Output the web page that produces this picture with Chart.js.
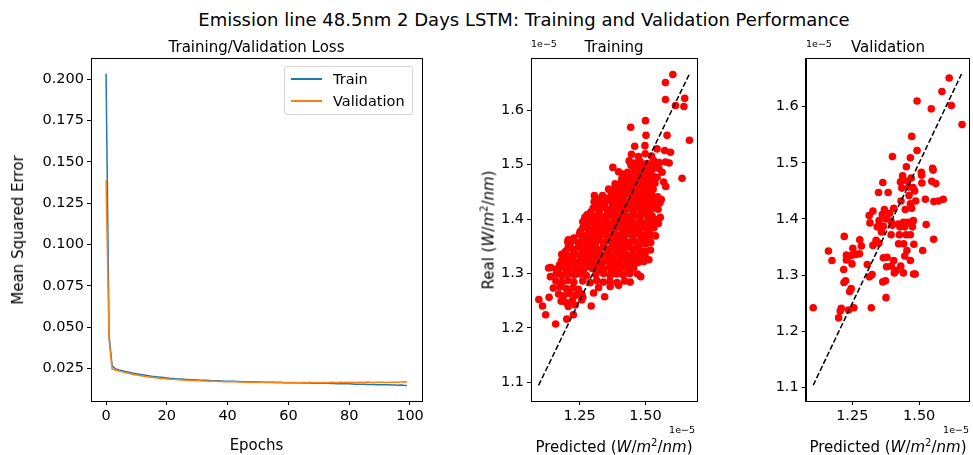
<!DOCTYPE html>
<html>
<head>
<meta charset="utf-8">
<script src="https://cdn.jsdelivr.net/npm/chart.js@4.4.1/dist/chart.umd.min.js"></script>
<style>
  body { margin: 0; width: 973px; height: 455px; background: #fff; position: relative; overflow: hidden;
         font-family: "DejaVu Sans", sans-serif; color: #000; }
  canvas { position: absolute; }
  .lbl { position: absolute; white-space: nowrap; transform: translate(-50%, -50%); font-size: 15px; }
  .rot { transform: translate(-50%, -50%) rotate(-90deg); }
  .off { position: absolute; font-size: 9.5px; white-space: nowrap; }
  #legend { position: absolute; left: 284px; top: 66px; width: 127px; height: 47px;
            border: 1px solid #d5d5d5; border-radius: 3px; background: rgba(255,255,255,0.8); font-size: 14.5px; }
  #legend .sw { position: absolute; left: 6px; width: 31px; height: 2px; }
  #legend .tx { position: absolute; left: 48px; transform: translateY(-50%); }
</style>
</head>
<body>
<canvas id="lossChart" width="440" height="400" style="left:0px; top:40px"></canvas>
<canvas id="trainChart" width="270" height="400" style="left:440px; top:40px"></canvas>
<canvas id="valChart" width="263" height="400" style="left:710px; top:40px"></canvas>

<div class="lbl" style="left:524px; top:19px; font-size:18px">Emission line 48.5nm 2 Days LSTM: Training and Validation Performance</div>
<div class="lbl" style="left:256.5px; top:47px">Training/Validation Loss</div>
<div class="lbl" style="left:614px; top:47px">Training</div>
<div class="lbl" style="left:888px; top:47px">Validation</div>

<div class="lbl rot" style="left:17.5px; top:229.5px">Mean Squared Error</div>
<div class="lbl" style="left:256.5px; top:445px">Epochs</div>
<div class="lbl rot" style="left:488px; top:230px">Real (<i>W</i>/<i>m</i><sup style="font-size:10px">2</sup>/<i>nm</i>)</div>
<div class="lbl" style="left:614px; top:446px">Predicted (<i>W</i>/<i>m</i><sup style="font-size:10px">2</sup>/<i>nm</i>)</div>
<div class="lbl" style="left:888px; top:446px">Predicted (<i>W</i>/<i>m</i><sup style="font-size:10px">2</sup>/<i>nm</i>)</div>

<div class="off" style="left:531px; top:38px">1e−5</div>
<div class="off" style="left:806px; top:38px">1e−5</div>
<div class="off" style="right:278px; top:424px">1e−5</div>
<div class="off" style="right:4px; top:424px">1e−5</div>

<div id="legend">
  <div class="sw" style="top:11px; background:#1f77b4"></div><div class="tx" style="top:12px">Train</div>
  <div class="sw" style="top:33px; background:#ff7f0e"></div><div class="tx" style="top:34px">Validation</div>
</div>

<script>
// Loss history (one value per epoch)
const trainLoss = [
    0.2035, 0.0450, 0.0265, 0.0248, 0.0242, 0.0237, 0.0232, 0.0228, 0.0224, 0.0220,
    0.0217, 0.0214, 0.0211, 0.0208, 0.0205, 0.0202, 0.0200, 0.0198, 0.0196, 0.0194,
    0.0192, 0.0190, 0.0189, 0.0187, 0.0186, 0.0185, 0.0183, 0.0182, 0.0181, 0.0180,
    0.0179, 0.0178, 0.0177, 0.0177, 0.0176, 0.0175, 0.0174, 0.0174, 0.0173, 0.0172,
    0.0172, 0.0171, 0.0171, 0.0170, 0.0170, 0.0169, 0.0169, 0.0168, 0.0168, 0.0167,
    0.0167, 0.0166, 0.0166, 0.0166, 0.0165, 0.0165, 0.0164, 0.0164, 0.0164, 0.0163,
    0.0163, 0.0163, 0.0162, 0.0162, 0.0162, 0.0161, 0.0161, 0.0161, 0.0160, 0.0160,
    0.0160, 0.0159, 0.0159, 0.0159, 0.0158, 0.0158, 0.0157, 0.0157, 0.0157, 0.0156,
    0.0156, 0.0155, 0.0154, 0.0154, 0.0153, 0.0154, 0.0152, 0.0152, 0.0152, 0.0151,
    0.0151, 0.0150, 0.0151, 0.0150, 0.0149, 0.0149, 0.0148, 0.0149, 0.0147, 0.0146
];
const valLoss = [
    0.1390, 0.0420, 0.0245, 0.0240, 0.0235, 0.0230, 0.0226, 0.0221, 0.0217, 0.0213,
    0.0210, 0.0206, 0.0203, 0.0200, 0.0198, 0.0196, 0.0193, 0.0191, 0.0189, 0.0188,
    0.0186, 0.0184, 0.0183, 0.0182, 0.0180, 0.0179, 0.0178, 0.0177, 0.0176, 0.0176,
    0.0175, 0.0174, 0.0173, 0.0173, 0.0172, 0.0171, 0.0171, 0.0170, 0.0170, 0.0169,
    0.0169, 0.0168, 0.0168, 0.0168, 0.0167, 0.0167, 0.0166, 0.0167, 0.0166, 0.0165,
    0.0166, 0.0165, 0.0165, 0.0164, 0.0165, 0.0164, 0.0164, 0.0165, 0.0164, 0.0163,
    0.0164, 0.0163, 0.0164, 0.0163, 0.0163, 0.0164, 0.0163, 0.0165, 0.0163, 0.0163,
    0.0164, 0.0163, 0.0164, 0.0163, 0.0165, 0.0164, 0.0163, 0.0166, 0.0164, 0.0165,
    0.0164, 0.0166, 0.0164, 0.0165, 0.0165, 0.0164, 0.0167, 0.0165, 0.0164, 0.0166,
    0.0165, 0.0166, 0.0164, 0.0166, 0.0165, 0.0166, 0.0165, 0.0167, 0.0169, 0.0167
];

// Tick labels
const lossXTicks = [0, 20, 40, 60, 80, 100];
const lossYTicks = [0.025, 0.050, 0.075, 0.100, 0.125, 0.150, 0.175, 0.200];
const fluxXTicks = [1.25, 1.50];
const fluxYTicks = [1.1, 1.2, 1.3, 1.4, 1.5, 1.6];

// Scatter points [predicted, real], in units of 1e-5 W/m^2/nm
const trainPoints = [
    [1.604,1.666],[1.576,1.651],[1.576,1.620],[1.649,1.622],[1.614,1.609],[1.646,1.607],[1.667,1.545],
    [1.500,1.581],[1.444,1.569],[1.502,1.554],[1.582,1.554],[1.459,1.534],[1.498,1.535],[1.639,1.475],
    [1.595,1.523],[1.573,1.526],[1.544,1.529],[1.376,1.495],[1.398,1.487],[1.413,1.483],[1.576,1.505],
    [1.563,1.486],[1.544,1.477],[1.569,1.468],[1.529,1.455],[1.560,1.436],[1.537,1.425],[1.556,1.403],
    [1.306,1.443],[1.337,1.443],[1.262,1.395],[1.270,1.403],[1.360,1.455],[1.385,1.465],[1.590,1.503],
    [1.577,1.460],
    [1.447,1.519],[1.473,1.515],[1.499,1.520],[1.523,1.516],
    [1.438,1.507],[1.458,1.503],[1.480,1.506],[1.505,1.502],[1.530,1.508],[1.552,1.504],
    [1.445,1.499],[1.471,1.498],[1.496,1.500],[1.520,1.497],[1.545,1.499],
    [1.456,1.494],[1.481,1.490],[1.503,1.495],[1.526,1.491],[1.551,1.493],
    [1.432,1.486],[1.460,1.487],[1.490,1.485],[1.518,1.487],
    [1.420,1.481],[1.443,1.478],[1.465,1.483],[1.488,1.479],[1.510,1.482],[1.530,1.478],
    [1.410,1.474],[1.440,1.475],[1.470,1.473],[1.500,1.475],[1.525,1.473],
    [1.409,1.466],[1.431,1.470],[1.451,1.467],[1.473,1.469],[1.494,1.465],[1.516,1.470],[1.536,1.466],
    [1.385,1.460],[1.416,1.461],[1.447,1.459],[1.478,1.461],[1.509,1.460],
    [1.372,1.453],[1.392,1.457],[1.412,1.454],[1.435,1.458],[1.455,1.453],[1.478,1.456],[1.500,1.452],[1.520,1.457],
    [1.370,1.449],[1.400,1.450],[1.430,1.448],[1.460,1.450],[1.490,1.449],[1.520,1.450],
    [1.373,1.441],[1.393,1.445],[1.416,1.442],[1.436,1.446],[1.458,1.440],[1.479,1.444],[1.501,1.442],[1.523,1.445],[1.546,1.441],
    [1.320,1.437],[1.352,1.438],[1.384,1.436],[1.416,1.438],[1.448,1.437],[1.480,1.436],[1.512,1.438],[1.540,1.437],
    [1.305,1.432],[1.330,1.429],[1.352,1.433],[1.375,1.430],[1.398,1.434],[1.420,1.428],[1.442,1.432],[1.465,1.430],
    [1.487,1.433],[1.508,1.429],[1.530,1.432],[1.555,1.430],
    [1.312,1.425],[1.344,1.426],[1.376,1.424],[1.408,1.426],[1.440,1.425],[1.472,1.424],[1.504,1.426],[1.536,1.425],
    [1.301,1.420],[1.324,1.417],[1.347,1.421],[1.369,1.418],[1.391,1.422],[1.413,1.417],[1.436,1.420],[1.459,1.418],
    [1.481,1.421],[1.503,1.417],[1.526,1.420],[1.548,1.418],
    [1.292,1.413],[1.324,1.414],[1.356,1.412],[1.388,1.414],[1.420,1.413],[1.452,1.412],[1.484,1.414],[1.516,1.413],
    [1.278,1.408],[1.300,1.405],[1.322,1.409],[1.345,1.404],[1.368,1.407],[1.390,1.405],[1.413,1.408],[1.436,1.404],
    [1.458,1.407],[1.480,1.405],[1.502,1.409],[1.525,1.406],
    [1.286,1.400],[1.318,1.401],[1.350,1.399],[1.382,1.401],[1.414,1.400],[1.446,1.399],[1.478,1.401],[1.510,1.400],[1.536,1.399],
    [1.281,1.392],[1.303,1.396],[1.326,1.393],[1.349,1.397],[1.371,1.392],[1.394,1.395],[1.416,1.393],[1.439,1.396],
    [1.461,1.392],[1.483,1.395],[1.506,1.393],[1.529,1.396],[1.549,1.392],
    [1.276,1.388],[1.308,1.389],[1.340,1.387],[1.372,1.389],[1.404,1.388],[1.436,1.387],[1.468,1.389],[1.500,1.388],[1.528,1.387],
    [1.262,1.384],[1.285,1.381],[1.308,1.385],[1.330,1.382],[1.352,1.384],[1.375,1.380],[1.398,1.385],[1.420,1.382],
    [1.442,1.384],[1.465,1.381],[1.488,1.385],[1.510,1.382],[1.532,1.384],
    [1.252,1.377],[1.284,1.378],[1.316,1.376],[1.348,1.378],[1.380,1.377],[1.412,1.376],[1.444,1.378],[1.476,1.377],[1.508,1.376],
    [1.249,1.372],[1.271,1.369],[1.294,1.373],[1.317,1.370],[1.339,1.372],[1.361,1.368],[1.383,1.373],[1.406,1.370],
    [1.429,1.372],[1.451,1.369],[1.473,1.373],[1.496,1.370],[1.518,1.372],[1.538,1.369],[1.207,1.362],
    [1.228,1.365],[1.260,1.366],[1.292,1.364],[1.324,1.366],[1.356,1.365],[1.388,1.364],[1.420,1.366],[1.452,1.365],
    [1.484,1.364],[1.512,1.366],
    [1.205,1.358],[1.228,1.361],[1.250,1.357],[1.272,1.360],[1.295,1.358],[1.318,1.361],[1.340,1.357],[1.362,1.360],
    [1.385,1.358],[1.408,1.361],[1.430,1.357],[1.452,1.360],[1.475,1.358],[1.498,1.361],[1.520,1.357],
    [1.214,1.353],[1.246,1.354],[1.278,1.352],[1.310,1.354],[1.342,1.353],[1.374,1.352],[1.406,1.354],[1.438,1.353],[1.470,1.352],[1.500,1.354],
    [1.206,1.347],[1.229,1.344],[1.251,1.348],[1.273,1.345],[1.296,1.347],[1.319,1.344],[1.341,1.348],[1.363,1.345],
    [1.386,1.347],[1.409,1.344],[1.431,1.348],[1.453,1.345],[1.476,1.347],[1.498,1.340],[1.519,1.343],
    [1.196,1.340],[1.228,1.341],[1.260,1.339],[1.292,1.341],[1.324,1.340],[1.356,1.339],[1.388,1.341],[1.420,1.340],[1.452,1.339],[1.480,1.341],
    [1.182,1.335],[1.205,1.332],[1.228,1.336],[1.250,1.333],[1.272,1.335],[1.295,1.332],[1.318,1.336],[1.340,1.333],
    [1.362,1.335],[1.385,1.332],[1.408,1.336],[1.430,1.333],[1.452,1.335],[1.475,1.332],[1.498,1.334],
    [1.190,1.328],[1.222,1.329],[1.254,1.327],[1.286,1.329],[1.318,1.328],[1.350,1.327],[1.382,1.329],[1.414,1.328],[1.446,1.327],[1.474,1.329],
    [1.181,1.323],[1.203,1.320],[1.226,1.324],[1.249,1.321],[1.271,1.323],[1.293,1.320],[1.316,1.324],[1.339,1.321],
    [1.361,1.323],[1.383,1.320],[1.406,1.324],[1.429,1.321],[1.451,1.323],[1.473,1.320],[1.494,1.322],[1.513,1.325],
    [1.174,1.316],[1.206,1.317],[1.238,1.315],[1.270,1.317],[1.302,1.316],[1.334,1.315],[1.366,1.317],[1.398,1.316],[1.430,1.315],[1.458,1.317],
    [1.140,1.311],[1.162,1.308],[1.185,1.312],[1.208,1.309],[1.230,1.311],[1.252,1.308],[1.275,1.312],[1.298,1.309],
    [1.320,1.311],[1.342,1.308],[1.365,1.312],[1.388,1.309],[1.410,1.311],[1.432,1.308],[1.455,1.310],
    [1.168,1.304],[1.200,1.305],[1.232,1.303],[1.264,1.305],[1.330,1.304],[1.370,1.303],[1.400,1.305],[1.440,1.304],
    [1.161,1.299],[1.183,1.296],[1.206,1.300],[1.229,1.297],[1.251,1.299],[1.276,1.296],[1.311,1.298],[1.341,1.300],
    [1.366,1.296],[1.391,1.299],[1.416,1.297],[1.441,1.300],[1.482,1.294],[1.470,1.299],
    [1.160,1.286],[1.182,1.283],[1.205,1.287],[1.228,1.284],[1.262,1.286],[1.290,1.283],[1.315,1.287],[1.340,1.284],
    [1.365,1.286],[1.392,1.283],[1.420,1.286],[1.442,1.284],
    [1.150,1.273],[1.175,1.275],[1.200,1.272],[1.225,1.274],[1.245,1.271],[1.322,1.274],[1.366,1.276],[1.398,1.278],
    [1.170,1.262],[1.190,1.259],[1.212,1.263],[1.235,1.260],[1.258,1.262],[1.303,1.264],[1.345,1.257],
    [1.180,1.249],[1.200,1.246],[1.222,1.250],[1.258,1.251],[1.294,1.240],
    [1.109,1.240],[1.207,1.239],[1.233,1.242],[1.095,1.252],[1.134,1.256],[1.121,1.224],[1.159,1.207],
    [1.201,1.216],[1.226,1.224],[1.262,1.256],[1.139,1.294],[1.132,1.310]
];
const valPoints = [
    [1.612,1.651],[1.585,1.627],[1.492,1.610],[1.545,1.596],[1.620,1.602],[1.660,1.568],[1.472,1.547],
    [1.400,1.511],[1.467,1.509],[1.492,1.522],[1.452,1.493],[1.550,1.490],[1.552,1.487],[1.508,1.483],
    [1.509,1.478],[1.438,1.477],[1.430,1.466],[1.456,1.467],[1.364,1.465],[1.470,1.473],[1.477,1.456],
    [1.510,1.464],[1.547,1.467],[1.562,1.463],[1.348,1.447],[1.384,1.447],[1.435,1.455],[1.461,1.457],
    [1.483,1.450],[1.462,1.442],[1.487,1.432],[1.523,1.435],[1.555,1.431],[1.572,1.432],[1.590,1.435],
    [1.432,1.432],[1.467,1.427],[1.448,1.417],[1.472,1.419],[1.370,1.417],[1.405,1.419],[1.390,1.410],
    [1.362,1.408],[1.327,1.414],[1.313,1.406],[1.316,1.393],[1.350,1.397],[1.376,1.400],[1.395,1.396],
    [1.422,1.391],[1.441,1.394],[1.459,1.394],[1.478,1.397],[1.526,1.390],[1.428,1.386],[1.446,1.386],
    [1.475,1.386],[1.343,1.386],[1.366,1.387],[1.399,1.389],
    [1.359,1.377],[1.395,1.372],[1.426,1.372],[1.451,1.372],[1.467,1.372],[1.220,1.369],[1.278,1.363],
    [1.339,1.362],[1.327,1.353],[1.349,1.357],[1.554,1.364],[1.423,1.356],[1.442,1.356],[1.480,1.355],
    [1.161,1.343],[1.252,1.348],[1.284,1.352],[1.454,1.344],[1.513,1.344],[1.228,1.336],[1.252,1.336],
    [1.277,1.338],[1.240,1.334],[1.265,1.337],[1.174,1.326],[1.228,1.327],[1.249,1.320],[1.366,1.331],
    [1.380,1.332],[1.446,1.334],[1.467,1.326],[1.405,1.326],[1.306,1.319],[1.378,1.315],[1.396,1.316],
    [1.431,1.316],[1.414,1.308],[1.407,1.304],[1.441,1.304],[1.479,1.302],[1.485,1.302],[1.218,1.310],
    [1.324,1.301],[1.314,1.297],[1.225,1.290],[1.219,1.287],[1.364,1.288],[1.374,1.290],[1.246,1.276],
    [1.240,1.271],[1.376,1.260],[1.104,1.242],[1.209,1.241],[1.205,1.236],[1.236,1.238],[1.256,1.242],
    [1.321,1.242],[1.199,1.224]
];

// Ideal y = x reference line ends
const trainDiag = [1.094, 1.667];
const valDiag = [1.104, 1.658];

const FONT = { family: "'DejaVu Sans', sans-serif", size: 14.5 };

// matplotlib style closed axes box
const boxPlugin = {
    id: 'box',
    afterDraw(chart) {
        const { ctx, chartArea: a } = chart;
        ctx.save();
        ctx.strokeStyle = '#000';
        ctx.lineWidth = 1;
        ctx.strokeRect(Math.round(a.left) + 0.5, Math.round(a.top) + 0.5,
            Math.round(a.right - a.left), Math.round(a.bottom - a.top));
        ctx.restore();
    }
};

function axis(min, max, ticks, fmt, size, isX) {
    return {
        type: 'linear', min, max,
        afterBuildTicks: s => { s.ticks = ticks.map(v => ({ value: v })); },
        afterFit: s => { if (isX) s.height = size; else s.width = size; },
        grid: { drawOnChartArea: false, drawTicks: true, tickLength: 4, color: '#000' },
        border: { color: '#000' },
        ticks: { color: '#000', font: FONT, padding: 3, maxRotation: 0, autoSkip: false, callback: v => fmt(v) }
    };
}

const baseOpts = {
    responsive: false, animation: false, devicePixelRatio: 1,
    plugins: { legend: { display: false }, tooltip: { enabled: false } }
};

// Loss chart
const epochs = trainLoss.map((_, i) => i);
new Chart(document.getElementById('lossChart'), {
    type: 'line',
    data: {
        datasets: [
            { label: 'Validation', data: epochs.map(i => ({ x: i, y: valLoss[i] })), borderColor: '#ff7f0e', borderWidth: 1.5, pointRadius: 0, tension: 0 },
            { label: 'Train', data: epochs.map(i => ({ x: i, y: trainLoss[i] })), borderColor: '#1f77b4', borderWidth: 1.5, pointRadius: 0, tension: 0 }
        ]
    },
    options: {
        ...baseOpts,
        layout: { padding: { left: 0, right: 18, top: 18.3, bottom: 0 } },
        scales: {
            x: axis(-4.95, 103.95, lossXTicks, v => String(v), 39, true),
            y: axis(0.0052, 0.2128, lossYTicks, v => v.toFixed(3), 91, false)
        }
    },
    plugins: [boxPlugin]
});

function scatterChart(id, points, diag, lo, hi, leftW, rightPad) {
    new Chart(document.getElementById(id), {
        type: 'scatter',
        data: {
            datasets: [
                { data: diag.map(v => ({ x: v, y: v })), showLine: true, borderColor: '#000', borderWidth: 1.5,
                  borderDash: [5.5, 2.4], pointRadius: 0 },
                { data: points.map(p => ({ x: p[0], y: p[1] })), backgroundColor: '#ff0000', borderWidth: 0,
                  pointRadius: 3.8 }
            ]
        },
        options: {
            ...baseOpts,
            layout: { padding: { left: 0, right: rightPad, top: 18.3, bottom: 0 } },
            scales: {
                x: axis(lo, hi, fluxXTicks, v => v.toFixed(2), 39, true),
                y: axis(lo, hi, fluxYTicks, v => v.toFixed(1), leftW, false)
            }
        },
        plugins: [boxPlugin]
    });
}

scatterChart('trainChart', trainPoints, trainDiag, 1.0653, 1.6957, 91, 13);
scatterChart('valChart', valPoints, valDiag, 1.076, 1.686, 95.7, 2.3);
</script>
</body>
</html>
